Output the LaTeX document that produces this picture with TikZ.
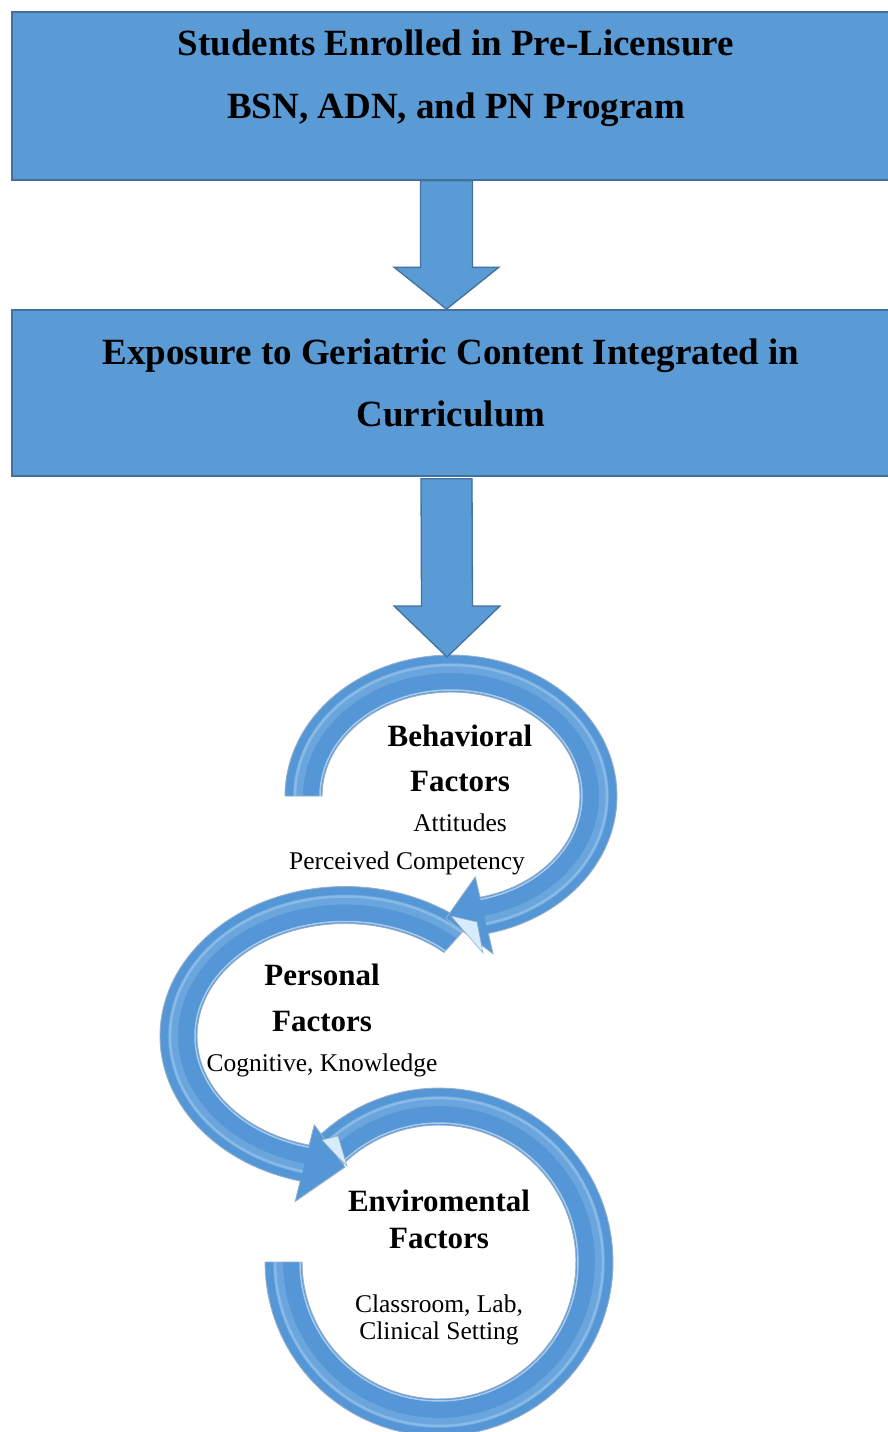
\documentclass[tikz,border=0pt]{standalone}
\usepackage{fontspec}
\setmainfont{Liberation Serif}
\usetikzlibrary{calc}
\definecolor{boxblue}{RGB}{91,155,213}
\definecolor{boxedge}{RGB}{65,113,156}
\definecolor{ringblue}{RGB}{84,150,214}
\definecolor{ringlight}{RGB}{175,213,242}
\definecolor{ringedge}{RGB}{150,176,204}
\definecolor{facetlight}{RGB}{215,236,250}
% #1 cx, #2 cy, #3 outer x radius, #4 outer y radius, #5 band width,
% #6 barb extra, #7 start angle, #8 band end angle, #9 tip angle
\newcommand{\ringarrow}[9]{%
  \filldraw[ringfill]
    plot[domain=#7:#8, samples=90] ({#1+#3*cos(\x)},{#2+#4*sin(\x)})
    -- ({#1+(#3+#6)*cos(#8)},{#2+(#4+#6)*sin(#8)})
    -- ({#1+(#3-#5/2)*cos(#9)},{#2+(#4-#5/2)*sin(#9)})
    -- ({#1+(#3-#5-#6)*cos(#8)},{#2+(#4-#5-#6)*sin(#8)})
    -- ({#1+(#3-#5)*cos(#8)},{#2+(#4-#5)*sin(#8)})
    -- plot[domain=#8:#7, samples=90] ({#1+(#3-#5)*cos(\x)},{#2+(#4-#5)*sin(\x)})
    -- cycle;
  \draw[ringglow] plot[domain=#7:#8, samples=90] ({#1+(#3-13)*cos(\x)},{#2+(#4-13)*sin(\x)});
  \draw[ringshine] plot[domain=#7:#8, samples=90] ({#1+(#3-10)*cos(\x)},{#2+(#4-10)*sin(\x)});
  \draw[ringinner] plot[domain=#7:#8, samples=90] ({#1+(#3-#5+2)*cos(\x)},{#2+(#4-#5+2)*sin(\x)});
}
\begin{document}
\begin{tikzpicture}[x=1pt, y=-1pt,
  flowbox/.style={draw=boxedge, line width=1.6pt, fill=boxblue, minimum width=878pt, inner sep=0pt},
  blockarrow/.style={draw=boxedge, line width=1.3pt, fill=boxblue, line join=miter},
  ringfill/.style={fill=ringblue, draw=ringedge, line width=0.9pt, line join=round},
  ringglow/.style={draw=ringlight, line width=10pt, opacity=0.25, line cap=butt},
  ringshine/.style={draw=ringlight, line width=2.5pt, opacity=0.45, line cap=butt},
  ringinner/.style={draw=white, line width=1.5pt, opacity=0.5, line cap=butt},
  facet/.style={fill=facetlight, draw=ringedge, line width=0.6pt},
  toptxt/.style={font=\bfseries\fontsize{37}{44}\selectfont, inner sep=0pt, anchor=base},
  headtxt/.style={font=\bfseries\fontsize{31}{36}\selectfont, inner sep=0pt, anchor=base},
  subtxt/.style={font=\fontsize{25.5}{30}\selectfont, inner sep=0pt, anchor=base}]
\path[use as bounding box, clip] (0,0) rectangle (888,1432);
\fill[white] (0,0) rectangle (888,1432);

% boxes
\node[flowbox, minimum height=168pt] (box1) at (451,96) {};
\node[flowbox, minimum height=166pt] (box2) at (451,393) {};
\node[toptxt] (t1a) at (456,55) {Students Enrolled in Pre-Licensure};
\node[toptxt] (t1b) at (456,118) {BSN, ADN, and PN Program};
\node[toptxt] (t2a) at (451,364) {Exposure to Geriatric Content Integrated in};
\node[toptxt] (t2b) at (451,426) {Curriculum};

% arrow box1 -> box2
\coordinate (a1s) at ([xshift=-4.5pt]box1.south);
\coordinate (a1e) at ([xshift=-4.5pt]box2.north);
\draw[blockarrow] (a1s) ++(-26,0) -- ($(a1s)+(26,0)$) -- ($(a1e)+(26,-42)$)
  -- ($(a1e)+(52.5,-42)$) -- (a1e) -- ($(a1e)+(-52.5,-42)$) -- ($(a1e)+(-26,-42)$) -- cycle;

% ring arrows
\ringarrow{439}{1262}{174}{174}{37}{0}{224}{540}{540}
\ringarrow{345}{1036}{185}{149.5}{37}{21}{312}{104}{90}
\ringarrow{451}{796}{166}{141}{37}{21}{180}{437}{452}
\filldraw[facet] (451,916) -- (477,922) -- (483,953) -- cycle;
\filldraw[facet] (322,1140) -- (338,1136) -- (347,1166) -- (337,1156) -- cycle;

% arrow box2 -> cycle
\coordinate (cycletop) at (447,657);
\coordinate (a2s) at ([xshift=-4.5pt,yshift=-2pt]box2.south);
\draw[blockarrow] (a2s) ++(-25.5,0) -- ($(a2s)+(25.5,0)$) -- ($(cycletop)+(25.5,-51)$)
  -- ($(cycletop)+(53,-51)$) -- (cycletop) -- ($(cycletop)+(-53,-51)$) -- ($(cycletop)+(-25.5,-51)$) -- cycle;

% ring texts
\node[headtxt] (bh1) at (460,746) {Behavioral};
\node[headtxt] (bh2) at (460,791) {Factors};
\node[subtxt] (bs1) at (460,831) {Attitudes};
\node[subtxt] (bs2) at (407,869) {Perceived Competency};
\node[headtxt] (ph1) at (322,985) {Personal};
\node[headtxt] (ph2) at (322,1031) {Factors};
\node[subtxt] (ps1) at (322,1071) {Cognitive, Knowledge};
\node[headtxt] (eh1) at (439,1211) {Enviromental};
\node[headtxt] (eh2) at (439,1248) {Factors};
\node[subtxt] (es1) at (439,1312) {Classroom, Lab,};
\node[subtxt] (es2) at (439,1339) {Clinical Setting};
\end{tikzpicture}
\end{document}
